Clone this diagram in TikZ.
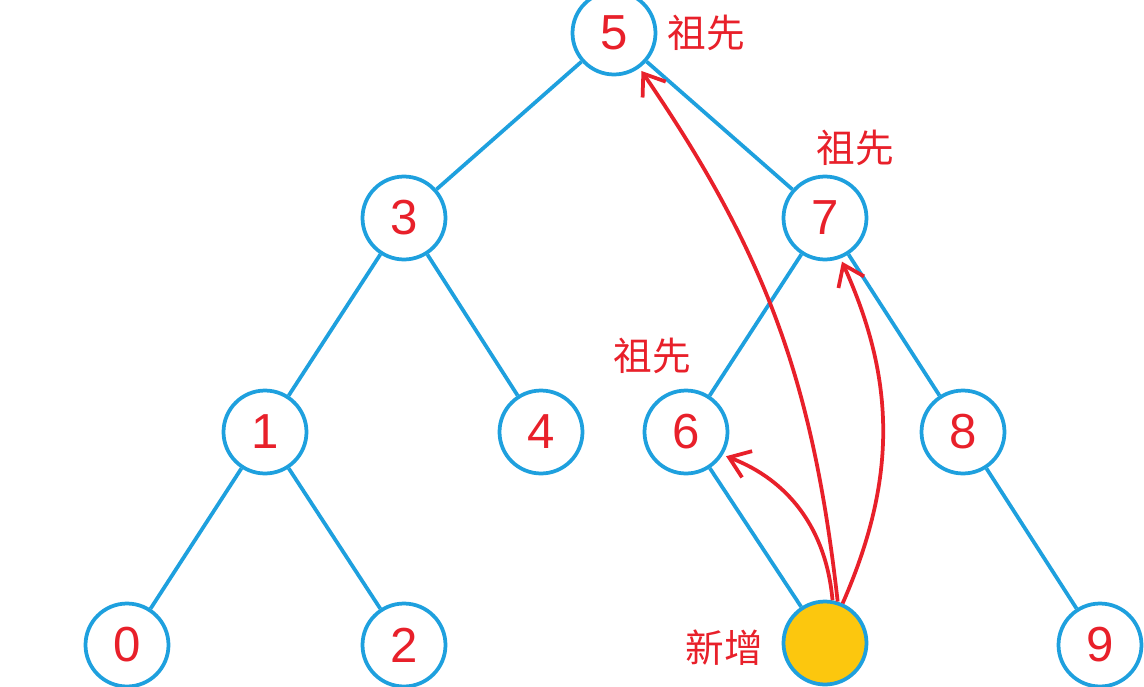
\documentclass[tikz,border=0pt]{standalone}
\usepackage{fontspec}
\setmainfont{Liberation Sans}
\newfontfamily\cjk{Noto Sans CJK SC}
\usepackage{xcolor}
\usetikzlibrary{arrows.meta,positioning}
\definecolor{edgeblue}{HTML}{1EA0DE}
\definecolor{numred}{HTML}{E8202A}
\definecolor{newyellow}{HTML}{FCC70E}
\tikzset{
  treenode/.style={circle,draw=edgeblue,line width=0.075cm,fill=white,minimum size=1.66cm,inner sep=0pt,
    font=\fontsize{28}{28}\selectfont,text=numred},
  newnode/.style={treenode,fill=newyellow},
  branch/.style={draw=edgeblue,line width=0.075cm},
  climb/.style={draw=numred,line width=0.075cm,-{Straight Barb[length=11pt,width=16pt]},shorten >=2pt},
  tag/.style={font=\cjk\fontsize{22}{22}\selectfont,text=numred,inner sep=0pt}
}
\begin{document}
\begin{tikzpicture}[x=0.02cm,y=-0.02cm]
  \useasboundingbox (0,0) rectangle (1144,687);
  \clip (0,0) rectangle (1144,687);

  \node[treenode] (n5) at (614,33) {5};
  \node[treenode] (n3) at (404,218) {3};
  \node[treenode] (n7) at (825,218) {7};
  \node[treenode] (n1) at (265,432) {1};
  \node[treenode] (n4) at (541,432) {4};
  \node[treenode] (n6) at (686,432) {6};
  \node[treenode] (n8) at (963,432) {8};
  \node[treenode] (n0) at (127,645) {0};
  \node[treenode] (n2) at (404,645) {2};
  \node[newnode] (new) at (825,643) {};
  \node[treenode] (n9) at (1100,645) {9};

  \node[tag] (tag5) at (706,33) {祖先};
  \node[tag] (tag7) at (855,148) {祖先};
  \node[tag] (tag6) at (652,356) {祖先};
  \node[tag] (tagnew) at (724,648) {新增};

  \draw[branch] (n5)--(n3);
  \draw[branch] (n5)--(n7);
  \draw[branch] (n3)--(n1);
  \draw[branch] (n3)--(n4);
  \draw[branch] (n7)--(n6);
  \draw[branch] (n7)--(n8);
  \draw[branch] (n1)--(n0);
  \draw[branch] (n1)--(n2);
  \draw[branch] (n6)--(new);
  \draw[branch] (n8)--(n9);

  \draw[climb] (new.80) to[bend right=32] (n6.-32);
  \draw[climb] (new.66) to[bend right=24] (n7.-69);
  \draw[climb] (new.73) to[bend right=14] (n5.-54);
\end{tikzpicture}
\end{document}
